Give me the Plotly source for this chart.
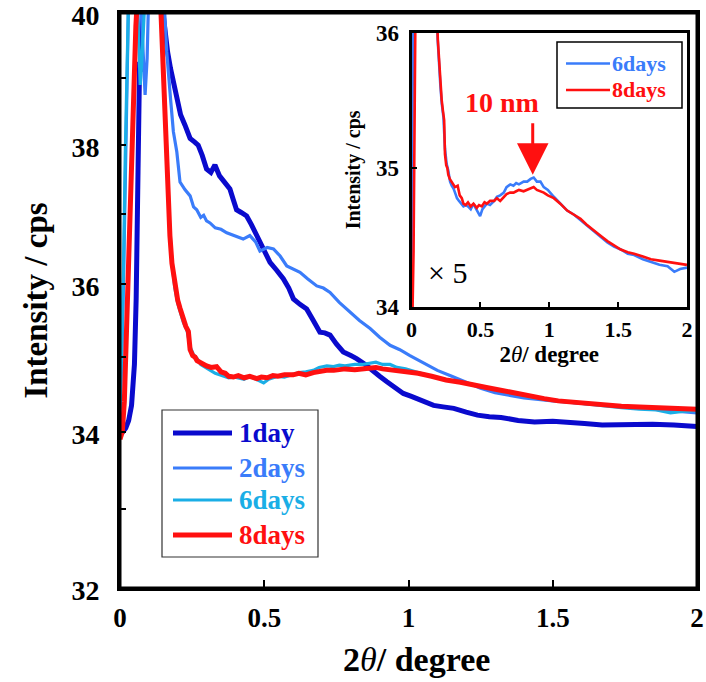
import math
import plotly.graph_objects as go

# ---- data: 2theta (degree) vs intensity (cps) ----
x_1day = [0, 0.01, 0.02, 0.03, 0.04, 0.05, 0.056, 0.061, 0.064, 0.068,
          0.072, 0.08, 0.1, 0.13, 0.149, 0.156, 0.165, 0.175, 0.185, 0.197,
          0.21, 0.225, 0.243, 0.258, 0.271, 0.285, 0.3, 0.315, 0.329, 0.345,
          0.362, 0.381, 0.393, 0.404, 0.42, 0.439, 0.455, 0.474, 0.495, 0.52,
          0.543, 0.566, 0.585, 0.601, 0.625, 0.647, 0.67, 0.693, 0.71, 0.728,
          0.75, 0.774, 0.8, 0.82, 0.85, 0.878, 0.9, 0.924, 0.95, 0.982,
          1.01, 1.04, 1.087, 1.12, 1.157, 1.2, 1.239, 1.28, 1.321, 1.38,
          1.437, 1.5, 1.553, 1.61, 1.671, 1.75, 1.846, 1.92, 2.0]
y_1day = [34.0, 34.0, 34.05, 34.15, 34.35, 34.9, 35.8, 37.2, 38.4, 39.25,
          39.1, 40.6, 41.5, 41.5, 40.0, 39.66, 39.4, 39.15, 38.95, 38.7,
          38.45, 38.3, 38.1, 38.05, 38.0, 37.85, 37.65, 37.6, 37.71, 37.55,
          37.45, 37.36, 37.2, 37.06, 37.02, 36.97, 36.85, 36.69, 36.52, 36.31,
          36.2, 36.08, 35.95, 35.8, 35.72, 35.66, 35.5, 35.34, 35.33, 35.3,
          35.18, 35.07, 35.02, 34.98, 34.9, 34.8, 34.74, 34.67, 34.6, 34.51,
          34.47, 34.42, 34.35, 34.33, 34.31, 34.26, 34.22, 34.2, 34.19, 34.15,
          34.13, 34.14, 34.13, 34.11, 34.09, 34.1, 34.1, 34.09, 34.07]

x_2days = [0, 0.006, 0.012, 0.018, 0.024, 0.03, 0.04, 0.06, 0.072, 0.08,
           0.087, 0.094, 0.1, 0.12, 0.145, 0.155, 0.162, 0.175, 0.185, 0.197,
           0.208, 0.225, 0.243, 0.255, 0.266, 0.28, 0.29, 0.3, 0.312, 0.33,
           0.35, 0.37, 0.39, 0.41, 0.427, 0.45, 0.47, 0.485, 0.51, 0.532,
           0.555, 0.578, 0.6, 0.624, 0.65, 0.682, 0.705, 0.728, 0.76, 0.797,
           0.83, 0.867, 0.9, 0.936, 0.97, 1.005, 1.05, 1.1, 1.15, 1.2,
           1.25, 1.3, 1.35, 1.4, 1.5, 1.6, 1.7, 1.8, 1.9, 2.0]
y_2days = [34.3, 34.9, 36.0, 37.6, 39.0, 40.3, 41.0, 41.0, 40.2, 39.4,
           38.75, 39.3, 40.4, 41.5, 41.0, 40.0, 39.4, 38.7, 38.2, 37.9,
           37.46, 37.35, 37.26, 37.1, 37.06, 36.95, 36.98, 36.9, 36.87, 36.8,
           36.78, 36.73, 36.7, 36.66, 36.64, 36.69, 36.6, 36.47, 36.52, 36.5,
           36.4, 36.26, 36.22, 36.17, 36.08, 35.98, 35.95, 35.89, 35.75, 35.62,
           35.5, 35.39, 35.27, 35.16, 35.1, 35.02, 34.92, 34.82, 34.74, 34.66,
           34.58, 34.52, 34.48, 34.45, 34.41, 34.38, 34.34, 34.31, 34.28, 34.25]

x_6days = [0, 0.006, 0.012, 0.018, 0.024, 0.03, 0.04, 0.055, 0.065, 0.07,
           0.075, 0.085, 0.1, 0.12, 0.14, 0.15, 0.158, 0.165, 0.172, 0.18,
           0.19, 0.2, 0.21, 0.22, 0.232, 0.243, 0.255, 0.267, 0.28, 0.292,
           0.305, 0.316, 0.33, 0.345, 0.36, 0.377, 0.395, 0.41, 0.43, 0.45,
           0.465, 0.48, 0.498, 0.515, 0.53, 0.547, 0.57, 0.6, 0.62, 0.644,
           0.67, 0.69, 0.717, 0.74, 0.76, 0.78, 0.814, 0.84, 0.865, 0.887,
           0.91, 0.936, 0.96, 0.99, 1.033, 1.08, 1.13, 1.18, 1.227, 1.27,
           1.324, 1.37, 1.422, 1.47, 1.519, 1.57, 1.616, 1.68, 1.738, 1.8,
           1.859, 1.908, 1.95, 2.0]
y_6days = [34.2, 35.0, 36.2, 37.8, 39.2, 40.3, 40.8, 40.5, 39.6, 38.9,
           39.2, 40.4, 41.5, 41.5, 40.6, 39.2, 38.3, 37.5, 36.85, 36.3,
           35.95, 35.74, 35.6, 35.47, 35.37, 35.14, 35.03, 34.98, 34.9, 34.87,
           34.85, 34.82, 34.78, 34.76, 34.74, 34.72, 34.73, 34.72, 34.7, 34.74,
           34.71, 34.68, 34.65, 34.7, 34.72, 34.74, 34.73, 34.76, 34.79, 34.8,
           34.82, 34.86, 34.88, 34.87, 34.89, 34.88, 34.9, 34.9, 34.92, 34.93,
           34.9, 34.9, 34.86, 34.84, 34.79, 34.74, 34.69, 34.66, 34.62, 34.59,
           34.54, 34.5, 34.46, 34.43, 34.41, 34.38, 34.37, 34.34, 34.32, 34.3,
           34.29, 34.25, 34.27, 34.28]

x_8days = [0, 0.008, 0.015, 0.022, 0.028, 0.035, 0.045, 0.055, 0.065, 0.08,
           0.1, 0.12, 0.135, 0.142, 0.15, 0.156, 0.162, 0.168, 0.173, 0.18,
           0.191, 0.2, 0.208, 0.219, 0.228, 0.237, 0.243, 0.252, 0.26, 0.267,
           0.278, 0.289, 0.3, 0.316, 0.335, 0.35, 0.365, 0.377, 0.393, 0.41,
           0.43, 0.45, 0.474, 0.49, 0.51, 0.53, 0.547, 0.57, 0.6, 0.62,
           0.644, 0.67, 0.69, 0.716, 0.741, 0.76, 0.78, 0.814, 0.84, 0.867,
           0.887, 0.91, 0.935, 0.96, 0.99, 1.033, 1.08, 1.13, 1.18, 1.227,
           1.27, 1.324, 1.37, 1.422, 1.47, 1.519, 1.57, 1.616, 1.68, 1.738,
           1.8, 1.859, 1.93, 2.0]
y_8days = [33.9, 34.0, 34.4, 35.3, 36.3, 37.2, 38.6, 39.8, 40.6, 41.2,
           41.5, 41.3, 40.8, 40.0, 38.8, 38.2, 37.65, 37.1, 36.69, 36.3,
           35.95, 35.78, 35.67, 35.5, 35.42, 35.35, 35.1, 35.02, 35.0, 34.95,
           34.92, 34.9, 34.88, 34.86, 34.87, 34.8, 34.78, 34.74, 34.73, 34.75,
           34.72, 34.74, 34.71, 34.73, 34.72, 34.75, 34.74, 34.76, 34.76, 34.78,
           34.76, 34.79, 34.81, 34.82, 34.82, 34.83, 34.84, 34.83, 34.84, 34.85,
           34.86, 34.84, 34.83, 34.82, 34.8, 34.78, 34.74, 34.69, 34.66, 34.63,
           34.59, 34.55, 34.51, 34.47, 34.44, 34.41, 34.39, 34.38, 34.36, 34.34,
           34.33, 34.32, 34.31, 34.3]

series_names = ["1day", "2days", "6days", "8days"]
series_colors = ["#0A0ACD", "#3A7CFA", "#1AAEE6", "#FF1010"]
series_widths = [5, 3.2, 3.2, 5]

y_tick_vals = [32, 33, 34, 35, 36, 37, 38, 39, 40]
y_tick_text = ["32", "", "34", "", "36", "", "38", "", "40"]
x_tick_vals = [0, 0.5, 1, 1.5, 2]
x_tick_text = ["0", "0.5", "1", "1.5", "2"]
inset_y_vals = [34, 35, 36]
inset_y_text = ["34", "35", "36"]
inset_names = ["6days", "8days"]
inset_colors = ["#3A7CFA", "#FF1010"]
peak_label = "10 nm"
peak_pos = (0.88, 34.95)

FONT = "Liberation Serif"
BOLD = dict(family=FONT, color="black", weight="bold")

xs = [x_1day, x_2days, x_6days, x_8days]
ys = [y_1day, y_2days, y_6days, y_8days]
for a, b in zip(xs, ys):
    assert len(a) == len(b)

fig = go.Figure()

# main panel
for xv, yv, name, col, w in zip(xs, ys, series_names, series_colors, series_widths):
    fig.add_trace(go.Scatter(x=xv, y=yv, mode="lines", name=name,
                             line=dict(color=col, width=w),
                             xaxis="x", yaxis="y", showlegend=False))

# inset panel (6 and 8 days)
for xv, yv, name, col in zip([x_6days, x_8days], [y_6days, y_8days],
                             inset_names, inset_colors):
    fig.add_trace(go.Scatter(x=xv, y=yv, mode="lines", name=name,
                             line=dict(color=col, width=2.6),
                             xaxis="x2", yaxis="y2", showlegend=False))

axis_common = dict(showline=True, mirror=True, linecolor="black", linewidth=3,
                   showgrid=False, zeroline=False, ticks="inside",
                   tickcolor="black", tickwidth=2, automargin=False,
                   ticklabeloverflow="allow")

XTITLE = "<b>2</b><i>θ</i><b>/ degree</b>"
TOP, BOT = 13, 588           # pixel rows of the main frame
PH = BOT - TOP
L, W = 120, 577


def py(p):
    """pixel row -> paper y"""
    return (BOT - p) / PH


def px(p):
    """pixel column -> paper x"""
    return (p - L) / W


fig.update_layout(
    width=706, height=682,
    margin=dict(l=L, r=706 - L - W, t=TOP, b=682 - BOT, autoexpand=False),
    paper_bgcolor="white", plot_bgcolor="white",
    showlegend=False,
    xaxis=dict(**axis_common, range=[0, 2], domain=[0, 1],
               tickvals=x_tick_vals, ticktext=x_tick_text, ticklen=8,
               tickfont=dict(**BOLD, size=27), ticklabelstandoff=4),
    yaxis=dict(**axis_common, type="log",
               range=[math.log10(32), math.log10(40)], domain=[0, 1],
               tickvals=y_tick_vals, ticktext=y_tick_text, ticklen=6,
               tickfont=dict(**BOLD, size=28), ticklabelstandoff=12,
               ticklabelshift=2,
               title=dict(text="Intensity / cps",
                          font=dict(**BOLD, size=33), standoff=14)),
    xaxis2=dict(**axis_common, range=[0, 2], domain=[px(411.5), px(687)],
                anchor="y2", tickvals=x_tick_vals, ticktext=x_tick_text,
                ticklen=5, tickfont=dict(**BOLD, size=22), ticklabelstandoff=1,
                title=dict(text=XTITLE,
                           font=dict(family=FONT, size=23, color="black"),
                           standoff=3)),
    yaxis2=dict(**axis_common, type="log",
                range=[math.log10(34), math.log10(36)],
                domain=[py(307), py(32.7)],
                anchor="x2", tickvals=inset_y_vals, ticktext=inset_y_text,
                ticklen=5, tickfont=dict(**BOLD, size=23), ticklabelstandoff=5,
                title=dict(text="Intensity / cps",
                           font=dict(**BOLD, size=20), standoff=10)),
)

# main frame drawn explicitly so every side shows
fig.add_shape(type="rect", xref="paper", yref="paper", x0=0, x1=1, y0=0, y1=1,
              line=dict(color="black", width=3), layer="above")

# main x-axis title
fig.add_annotation(xref="paper", yref="paper", x=px(416), y=py(659),
                   xanchor="center", yanchor="middle", showarrow=False,
                   text=XTITLE, font=dict(family=FONT, size=34, color="black"))

# main legend box
fig.add_shape(type="rect", xref="paper", yref="paper",
              x0=px(162), x1=px(318), y0=py(557), y1=py(410),
              line=dict(color="#333333", width=1.2), fillcolor="white", layer="above")
leg_rows_px = [433, 468, 500, 535]
for yp, name, col, w in zip(leg_rows_px, series_names, series_colors, series_widths):
    fig.add_shape(type="line", xref="paper", yref="paper",
                  x0=px(173), x1=px(232), y0=py(yp), y1=py(yp),
                  line=dict(color=col, width=w), layer="above")
    fig.add_annotation(xref="paper", yref="paper", x=px(237), y=py(yp),
                       xanchor="left", yanchor="middle", showarrow=False,
                       text=name, font=dict(family=FONT, size=27, color=col, weight="bold"))

# inset legend box
fig.add_shape(type="rect", xref="paper", yref="paper",
              x0=px(557), x1=px(682), y0=py(108), y1=py(42),
              line=dict(color="black", width=1.5), fillcolor="white", layer="above")
for yp, name, col in zip([63.5, 90], inset_names, inset_colors):
    fig.add_shape(type="line", xref="paper", yref="paper",
                  x0=px(566), x1=px(610), y0=py(yp), y1=py(yp),
                  line=dict(color=col, width=2.6), layer="above")
    fig.add_annotation(xref="paper", yref="paper", x=px(610), y=py(yp),
                       xanchor="left", yanchor="middle", showarrow=False,
                       text=name, font=dict(family=FONT, size=22, color=col, weight="bold"))

# peak marker in inset
fig.add_annotation(xref="x2", yref="y2", x=peak_pos[0], y=math.log10(peak_pos[1]),
                   ax=0, ay=-53, text="", showarrow=True, arrowhead=2, arrowsize=2.1,
                   arrowwidth=3, arrowcolor="#FF1010")
fig.add_annotation(xref="paper", yref="paper", x=px(502), y=py(103),
                   xanchor="center", yanchor="middle",
                   text=peak_label, showarrow=False,
                   font=dict(family=FONT, size=28, color="#FF1010", weight="bold"))
fig.add_annotation(xref="paper", yref="paper", x=px(447), y=py(272),
                   xanchor="center", yanchor="middle",
                   text="× 5", showarrow=False,
                   font=dict(family=FONT, size=30, color="black"))

fig.write_html("out.html")
